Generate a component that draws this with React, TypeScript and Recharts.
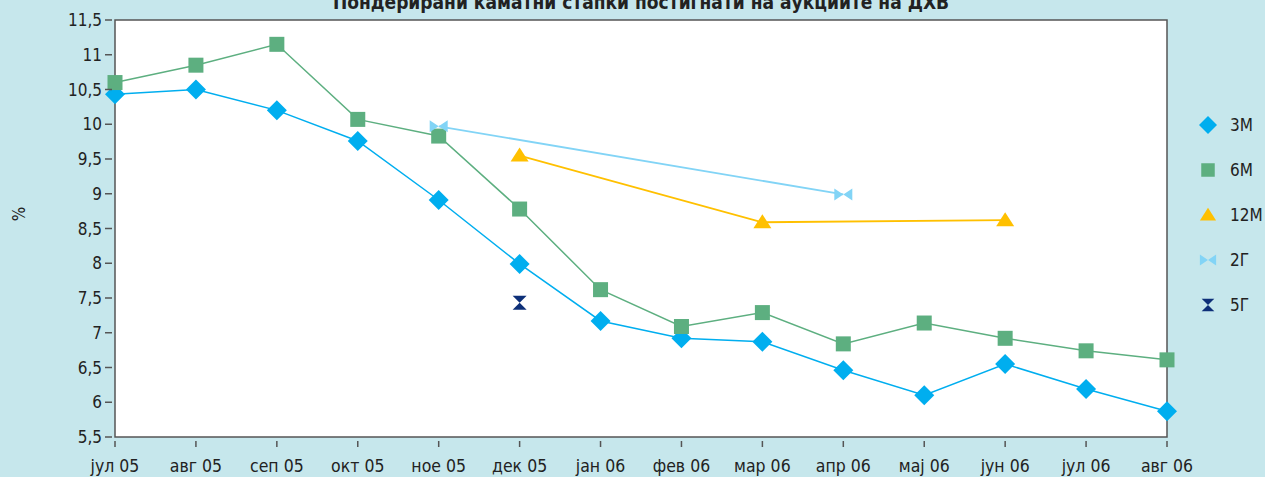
import { LineChart, Line, XAxis, YAxis, ReferenceArea } from "recharts"

const months = [
    "јул 05", "авг 05", "сеп 05", "окт 05", "ное 05", "дек 05", "јан 06",
    "фев 06", "мар 06", "апр 06", "мај 06", "јун 06", "јул 06", "авг 06",
]
const m3 = [10.43, 10.5, 10.2, 9.76, 8.91, 7.99, 7.17, 6.92, 6.87, 6.46, 6.1, 6.55, 6.19, 5.87]
const m6 = [10.6, 10.85, 11.15, 10.07, 9.83, 8.78, 7.62, 7.09, 7.29, 6.84, 7.14, 6.92, 6.74, 6.61]
const m12 = [null, null, null, null, null, 9.55, null, null, 8.59, null, null, 8.62, null, null]
const y2 = [null, null, null, null, 9.97, null, null, null, null, 8.99, null, null, null, null]
const y5 = [null, null, null, null, null, 7.43, null, null, null, null, null, null, null, null]
const yTicks = [5.5, 6, 6.5, 7, 7.5, 8, 8.5, 9, 9.5, 10, 10.5, 11, 11.5]

const title = "Пондерирани каматни стапки постигнати на аукциите на ДХВ"

const FONT = "'Liberation Sans Narrow', 'DejaVu Sans Condensed', Arial, sans-serif"
const BG = "#C6E7EC"
const AXIS = "#555"

const C3 = "#00AEEF"
const C6 = "#5DAF80"
const C12 = "#FFC000"
const C2 = "#82D4F6"
const C5 = "#0D2F78"

const data = months.map((month, i) => ({
    month,
    m3: m3[i],
    m6: m6[i],
    m12: m12[i],
    y2: y2[i],
    y5: y5[i],
}))

const fmt = (v: number) => String(v).replace(".", ",")

function Marker({ kind, cx, cy, s = 1 }: { kind: string; cx: number; cy: number; s?: number }) {
    if (kind == "diamond") {
        const r = 10 * s
        return <polygon points={`${cx},${cy - r} ${cx + r},${cy} ${cx},${cy + r} ${cx - r},${cy}`} fill={C3} />
    }
    if (kind == "square") {
        const h = 7.5 * s
        return <rect x={cx - h} y={cy - h} width={h * 2} height={h * 2} fill={C6} />
    }
    if (kind == "triangle") {
        return <polygon points={`${cx},${cy - 8 * s} ${cx + 9 * s},${cy + 6 * s} ${cx - 9 * s},${cy + 6 * s}`} fill={C12} />
    }
    if (kind == "bowtie") {
        const w = 9 * s, h = 6 * s
        return (
            <g fill={C2}>
                <polygon points={`${cx - w},${cy - h} ${cx},${cy} ${cx - w},${cy + h}`} />
                <polygon points={`${cx + w},${cy - h} ${cx},${cy} ${cx + w},${cy + h}`} />
            </g>
        )
    }
    const w = 7 * s
    return (
        <g fill={C5}>
            <polygon points={`${cx - w},${cy - w} ${cx + w},${cy - w} ${cx},${cy}`} />
            <polygon points={`${cx - w},${cy + w} ${cx + w},${cy + w} ${cx},${cy}`} />
        </g>
    )
}

const dotFor = (kind: string) => (props: any) => {
    const { cx, cy, index } = props
    if (cx == null || cy == null || props.value == null) return <g key={index} />
    return <Marker key={index} kind={kind} cx={cx} cy={cy} />
}

function YTick(props: any) {
    const { x, y, payload } = props
    return (
        <g>
            <line x1={x + 3} x2={x + 10} y1={y} y2={y} stroke={AXIS} strokeWidth={1.5} />
            <text x={x} y={y} dy={6} textAnchor="end" fill="#222" fontSize={17} fontFamily={FONT}>
                {fmt(payload.value)}
            </text>
        </g>
    )
}

function XTick(props: any) {
    const { x, y, payload } = props
    return (
        <g>
            <line x1={x} x2={x} y1={y + 4} y2={y + 10} stroke={AXIS} strokeWidth={1.5} />
            <text x={x} y={y} dy={35} textAnchor="middle" fill="#222" fontSize={17.5} fontFamily={FONT}>
                {payload.value}
            </text>
        </g>
    )
}

const legendItems = [
    { kind: "diamond", label: "3M" },
    { kind: "square", label: "6M" },
    { kind: "triangle", label: "12M" },
    { kind: "bowtie", label: "2Г" },
    { kind: "hourglass", label: "5Г" },
]

function LegendBox() {
    return (
        <div style={{ position: "absolute", left: 1196, top: 102, display: "flex", flexDirection: "column" }}>
            {legendItems.map((it) => (
                <div key={it.label} style={{ display: "flex", alignItems: "center", height: 45 }}>
                    <svg width={24} height={24}>
                        <Marker kind={it.kind} cx={12} cy={12} s={0.9} />
                    </svg>
                    <span style={{ marginLeft: 10, fontSize: 17, fontFamily: FONT, color: "#222" }}>{it.label}</span>
                </div>
            ))}
        </div>
    )
}

export default function App() {
    return (
        <div style={{ position: "absolute", left: 0, top: 0, width: 1265, height: 477, background: BG, overflow: "hidden" }}>
            <div
                style={{
                    position: "absolute", left: 115, width: 1052, top: -9, textAlign: "center",
                    fontFamily: FONT, fontWeight: "bold", fontSize: 19, color: "#222", whiteSpace: "nowrap",
                }}
            >
                {title}
            </div>
            <div
                style={{
                    position: "absolute", left: 12, top: 204, transform: "rotate(-90deg)",
                    fontFamily: FONT, fontSize: 17, color: "#222",
                }}
            >
                %
            </div>
            <LineChart width={1265} height={477} data={data} margin={{ top: 20, right: 98, bottom: 0, left: 0 }}>
                <ReferenceArea
                    x1="јул 05" x2="авг 06" y1={5.5} y2={11.5}
                    fill="#fff" fillOpacity={1} stroke={AXIS} strokeWidth={1.5} ifOverflow="visible"
                />
                <XAxis
                    dataKey="month" axisLine={false} tickLine={false} tickSize={0} tickMargin={0}
                    height={40} interval={0} tick={<XTick />}
                />
                <YAxis
                    domain={[5.5, 11.5]} ticks={yTicks} axisLine={false} tickLine={false}
                    tickSize={0} tickMargin={13} width={115} tick={<YTick />}
                />
                <Line dataKey="m3" stroke={C3} strokeWidth={1.5} dot={dotFor("diamond")} isAnimationActive={false} />
                <Line dataKey="m6" stroke={C6} strokeWidth={1.5} dot={dotFor("square")} isAnimationActive={false} />
                <Line dataKey="m12" stroke={C12} strokeWidth={1.8} dot={dotFor("triangle")} connectNulls isAnimationActive={false} />
                <Line dataKey="y2" stroke={C2} strokeWidth={1.8} dot={dotFor("bowtie")} connectNulls isAnimationActive={false} />
                <Line dataKey="y5" stroke={C5} strokeWidth={1.5} dot={dotFor("hourglass")} connectNulls isAnimationActive={false} />
            </LineChart>
            <LegendBox />
        </div>
    )
}
